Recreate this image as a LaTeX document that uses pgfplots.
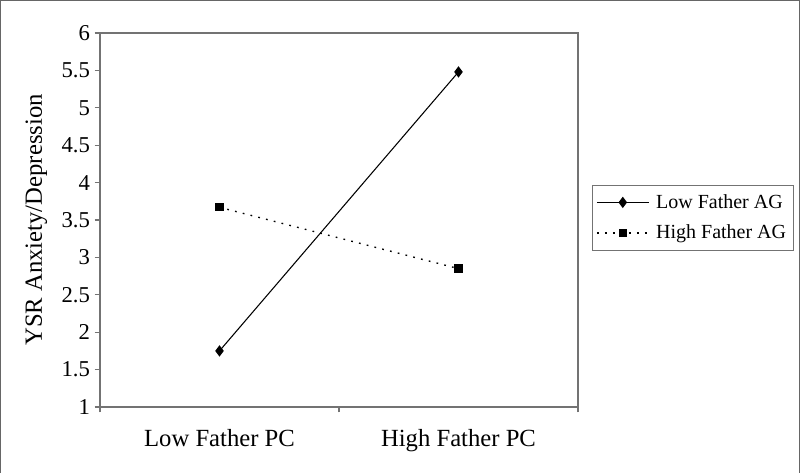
\documentclass[border=0pt]{standalone}
\usepackage{pgfplots}
\pgfplotsset{compat=1.18}
\usepackage{fontspec}
\setmainfont{Liberation Serif}
\begin{document}
\begin{tikzpicture}[x=0.75pt,y=0.75pt]
\useasboundingbox (0,0) rectangle (800,472);
\draw[gray!80!black,line width=0.9pt] (0.6,-10) -- (0.6,471.4) -- (799.4,471.4) -- (799.4,-10);
\begin{axis}[
  at={(75pt,48.75pt)}, anchor=south west,
  scale only axis,
  width=358.5pt, height=280.5pt,
  xmin=0, xmax=2, ymin=1, ymax=6,
  xtick={0,1,2},
  xticklabels={Low Father PC, High Father PC},
  x tick label as interval,
  ytick={1,1.5,...,6},
  yticklabels={1,1.5,2,2.5,3,3.5,4,4.5,5,5.5,6},
  tick align=outside,
  xtick pos=bottom, ytick pos=left,
  major tick length=4pt,
  axis line style={gray!90!black, line width=0.8pt},
  tick style={gray!90!black, line width=0.8pt},
  xticklabel style={font=\fontsize{18.5}{20}\selectfont, yshift=-9pt},
  yticklabel style={font=\fontsize{17}{18}\selectfont},
  ylabel={YSR Anxiety/Depression},
  ylabel style={font=\fontsize{18.5}{20}\selectfont, yshift=4pt},
  legend style={at={(1.029,0.594)}, anchor=north west, draw=gray!90!black,
    font=\fontsize{15}{16}\selectfont, row sep=7pt, inner sep=3pt, inner ysep=5pt,
    /tikz/column 1/.style={column sep=3pt}},
  legend cell align=left,
  legend image code/.code={%
    \draw[mark repeat=2,mark phase=2,#1] plot coordinates {(0pt,0pt) (19.5pt,0pt) (39pt,0pt)};},
]
\addplot[black, line width=0.8pt, mark=diamond*, mark size=3.6pt, mark options={solid}]
  coordinates {(0.5,1.75) (1.5,5.48)};
\addlegendentry{Low Father AG}
\addplot[black, line width=1pt, dash pattern=on 1.3pt off 4.7pt, mark=square*, mark size=2.6pt, mark options={solid}]
  coordinates {(0.5,3.67) (1.5,2.85)};
\addlegendentry{High Father AG}
\end{axis}
\end{tikzpicture}
\end{document}
